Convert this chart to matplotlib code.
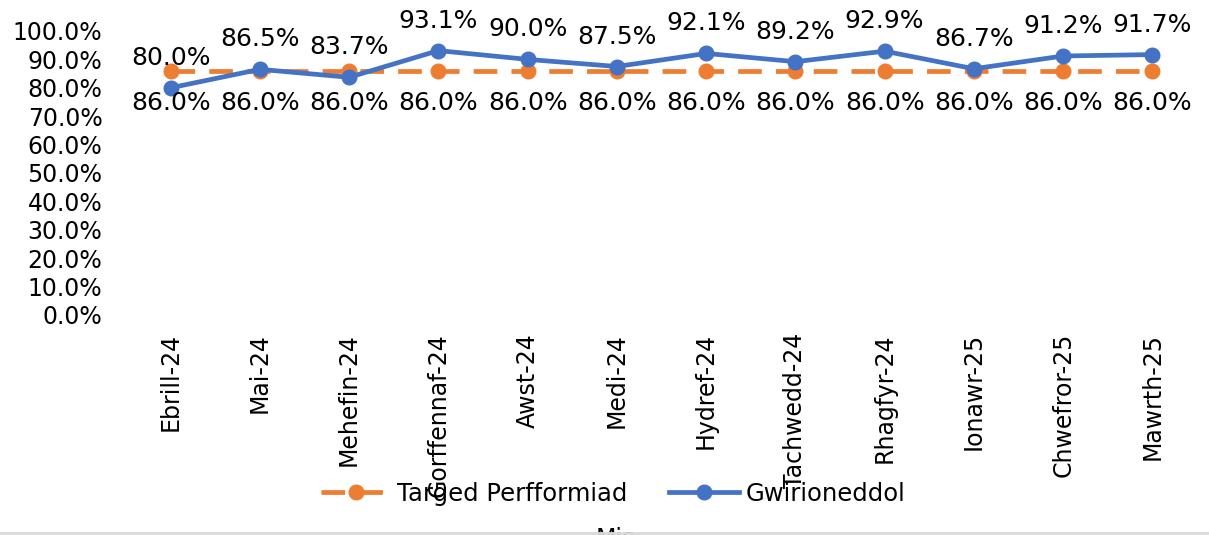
import matplotlib
matplotlib.use("Agg")
import matplotlib.pyplot as plt
from matplotlib.ticker import PercentFormatter

months = ["Ebrill-24", "Mai-24", "Mehefin-24", "Gorffennaf-24", "Awst-24", "Medi-24",
          "Hydref-24", "Tachwedd-24", "Rhagfyr-24", "Ionawr-25", "Chwefror-25", "Mawrth-25"]
target = [86.0] * 12
actual = [80.0, 86.5, 83.7, 93.1, 90.0, 87.5, 92.1, 89.2, 92.9, 86.7, 91.2, 91.7]

plt.rcParams['font.family'] = ['DejaVu Sans']
FS = 17
FS_LABEL = 18

fig = plt.figure(figsize=(12.09, 5.35), dpi=100)
ax = fig.add_axes([126/1209, 1 - 315/535, (1197-126)/1209, (315-31)/535])

x = list(range(len(months)))
orange = "#ED7D31"
blue = "#4472C4"

l1, = ax.plot(x, target, color=orange, lw=3.4, ls=(0, (5, 3)), marker='o', ms=10.5,
              label="Targed Perfformiad", zorder=2)
l2, = ax.plot(x, actual, color=blue, lw=3.4, marker='o', ms=10.5,
              label="Gwirioneddol", zorder=3)

for xi, v in zip(x, target):
    ax.annotate(f"{v:.1f}%", (xi, v), xytext=(0, -32), textcoords='offset pixels',
                ha='center', va='center', fontsize=FS_LABEL)
for xi, v in zip(x, actual):
    ax.annotate(f"{v:.1f}%", (xi, v), xytext=(0, 30), textcoords='offset pixels',
                ha='center', va='center', fontsize=FS_LABEL)

ax.set_xlim(-0.5, len(months) - 0.5)
ax.set_ylim(0, 100)
ax.set_yticks(range(0, 101, 10))
ax.yaxis.set_major_formatter(PercentFormatter(decimals=1))
ax.set_xticks(x)
ax.set_xticklabels(months, rotation=90)
ax.tick_params(axis='both', length=0, labelsize=FS)
ax.tick_params(axis='y', pad=17)
ax.tick_params(axis='x', pad=13)
for s in ax.spines.values():
    s.set_visible(False)

fig.text(615/1209, 1 - 527/535, "Mis", ha='center', va='top', fontsize=FS)

fig.legend(handles=[l1, l2], loc='center', bbox_to_anchor=(613/1209, 1 - 494/535),
           ncol=2, frameon=False, handlelength=2.9, columnspacing=1.7,
           handletextpad=0.25, prop={'family': 'Liberation Sans Narrow', 'size': 17.5})

fig.add_artist(plt.Line2D([0, 1], [1 - 533/535, 1 - 533/535], color="#D9D9D9", lw=2, zorder=10))

fig.savefig("out.png", dpi=100)
